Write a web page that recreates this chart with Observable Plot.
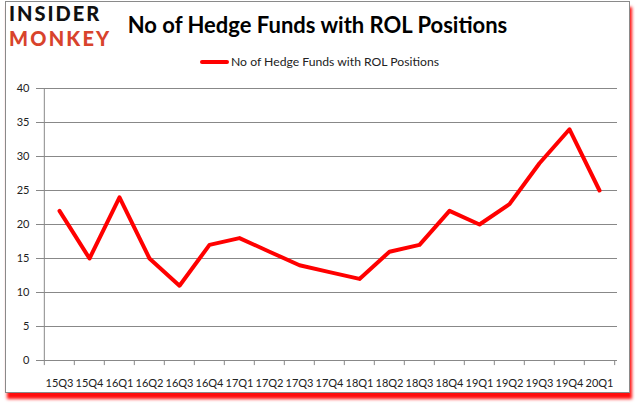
<!DOCTYPE html>
<html>
<head>
<meta charset="utf-8">
<script src="https://cdn.jsdelivr.net/npm/d3@7"></script>
<script src="https://cdn.jsdelivr.net/npm/@observablehq/plot@0.6"></script>
<style>
  html, body { margin: 0; padding: 0; background: #fff; }
  #wrap { position: relative; width: 635px; height: 405px; overflow: hidden; background: #fff; font-family: Lato, "Open Sans", sans-serif; }
  #frame { position: absolute; left: 5px; top: 1px; width: 623px; height: 390px; border: 1px solid #8a8a8a; background: #fff; box-shadow: 2px 6px 3px rgba(255,0,0,0.95); }
  .logo { position: absolute; left: 9px; font-family: Lato, sans-serif; font-weight: 900; font-size: 20px; line-height: 24px; height: 24px; white-space: nowrap; }
  #logo1 { top: 1px; color: #111; letter-spacing: 2px; }
  #logo2 { top: 25.5px; color: #d8432c; letter-spacing: 2.2px; }
  #title { position: absolute; left: 0; width: 635px; text-align: center; top: 11px; font-family: Lato, sans-serif; font-weight: 700; font-size: 22px; color: #000; }
  #legend { position: absolute; left: 200px; top: 54px; font-family: Lato, sans-serif; font-size: 12.2px; color: #222; display: flex; align-items: center; }
  #legend .sw { width: 29px; height: 4px; background: #ff0000; border-radius: 2px; margin-right: 2px; }
  #chart { position: absolute; left: 0; top: 0; }
  #chart svg { background: transparent !important; }
  g[aria-label^="y-axis"] line, g[aria-label^="y-axis"] path { stroke: #888; }
  g[aria-label^="x-axis"] line, g[aria-label^="x-axis"] path { stroke: #888; }
</style>
</head>
<body>
<div id="wrap">
  <div id="frame"></div>
  <div class="logo" id="logo1">INSIDER</div>
  <div class="logo" id="logo2">MONKEY</div>
  <div id="title">No of Hedge Funds with ROL Positions</div>
  <div id="legend"><div class="sw"></div><span>No of Hedge Funds with ROL Positions</span></div>
  <div id="chart"></div>
</div>
<script>
const quarters = ["15Q3","15Q4","16Q1","16Q2","16Q3","16Q4","17Q1","17Q2","17Q3","17Q4","18Q1","18Q2","18Q3","18Q4","19Q1","19Q2","19Q3","19Q4","20Q1"];
const funds = [22,15,24,15,11,17,18,16,14,13,12,16,17,22,20,23,29,34,25];
const yTicks = [0,5,10,15,20,25,30,35,40];

const data = quarters.map((q, i) => ({q, v: funds[i]}));

const W = 635, H = 405, ML = 40, MR = 18, MT = 88, MB = 45;
const step = (W - ML - MR) / quarters.length;

const plot = Plot.plot({
  width: W,
  height: H,
  marginLeft: ML,
  marginRight: MR,
  marginTop: MT,
  marginBottom: MB,
  style: {background: "transparent", fontFamily: "Lato, sans-serif", fontSize: "11px", color: "#222", overflow: "visible"},
  x: {type: "band", domain: quarters, padding: 0, tickSize: 0, tickPadding: 19, label: null},
  y: {domain: [0, 40], ticks: yTicks, tickSize: 4, tickPadding: 7, label: null, tickFormat: d3.format("d")},
  marks: [
    Plot.ruleY(yTicks.filter(d => d > 0), {stroke: "#888", strokeWidth: 1}),
    Plot.ruleY([0], {stroke: "#888", strokeWidth: 1}),
    Plot.ruleX([quarters[0]], {x: d => d, y1: 0, y2: 40, dx: -step / 2, stroke: "#888"}),
    Plot.ruleX(quarters, {x: d => d, y1: 0, y2: -0.75, dx: -step / 2, stroke: "#888"}),
    Plot.ruleX([quarters[quarters.length - 1]], {x: d => d, y1: 0, y2: -0.75, dx: step / 2, stroke: "#888"}),
    Plot.line(data, {x: "q", y: "v", stroke: "#ff0000", strokeWidth: 4, strokeLinejoin: "round", strokeLinecap: "round"})
  ]
});
document.getElementById("chart").appendChild(plot);
</script>
</body>
</html>
